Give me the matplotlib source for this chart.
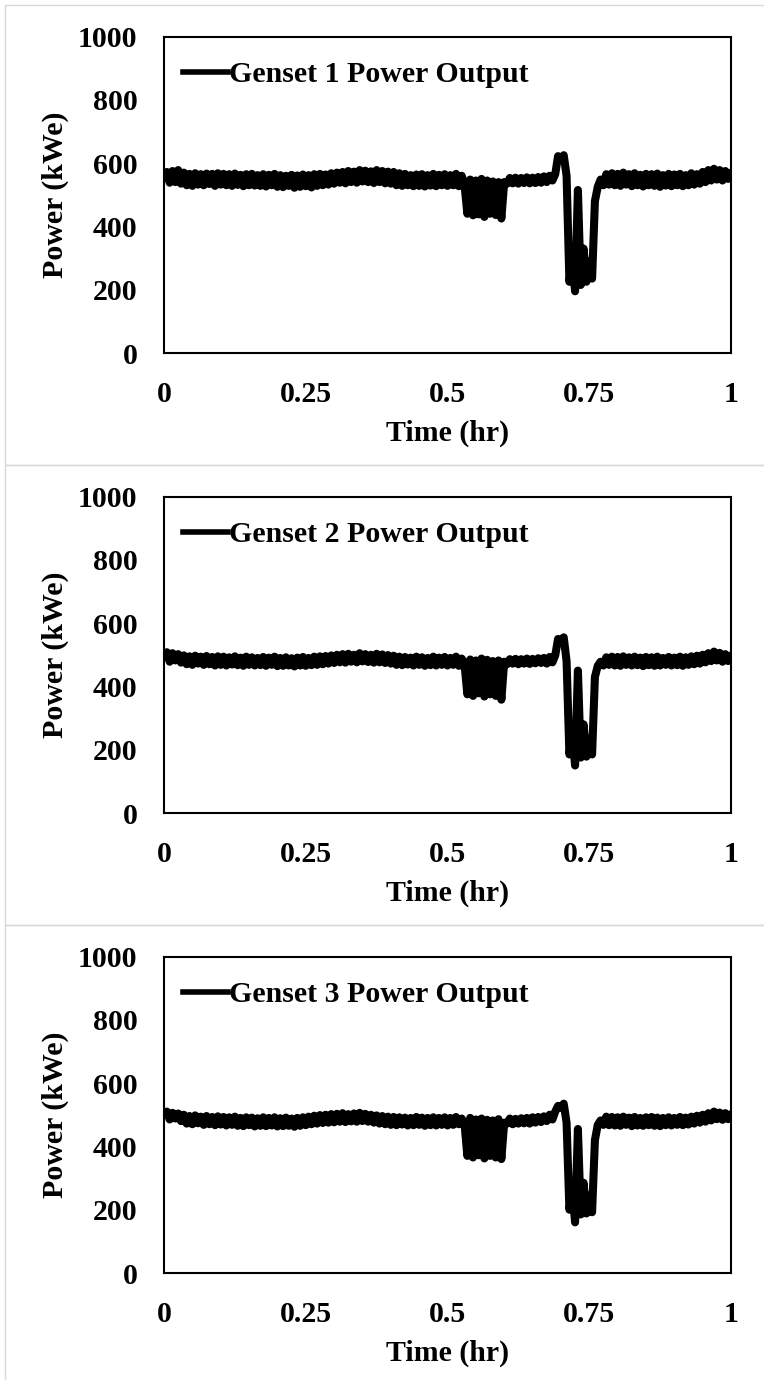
import numpy as np
import matplotlib
matplotlib.use("Agg")
import matplotlib.pyplot as plt
from matplotlib.lines import Line2D
from matplotlib.patches import Rectangle

plt.rcParams['font.family'] = ['Liberation Serif', 'DejaVu Serif']
plt.rcParams['font.weight'] = 'bold'
plt.rcParams['path.simplify'] = False

# sample times (hr), 0.005 hr step
time_hr = np.round(np.arange(0, 201) * 0.005, 3)

genset1 = [
    555, 572, 538, 575, 540, 578, 535, 570, 530, 566, 528, 568, 532, 565, 530, 567, 534, 566, 528, 568,
    532, 566, 530, 565, 528, 567, 531, 563, 527, 565, 530, 566, 529, 562, 528, 565, 526, 563, 530, 566,
    525, 562, 524, 560, 528, 563, 522, 561, 525, 564, 527, 562, 523, 565, 528, 566, 530, 564, 532, 568,
    535, 570, 538, 572, 536, 575, 540, 573, 538, 578, 542, 576, 540, 574, 537, 578, 540, 575, 536, 573,
    535, 572, 530, 568, 528, 566, 530, 562, 527, 564, 528, 565, 526, 562, 529, 566, 527, 563, 530, 565,
    528, 562, 530, 566, 527, 560, 532, 440, 548, 435, 545, 438, 550, 430, 545, 440, 542, 436, 540, 425,
    540, 535, 553, 536, 554, 535, 553, 537, 555, 536, 554, 537, 556, 538, 558, 540, 560, 545, 565, 622,
    612, 625, 560, 225, 300, 195, 515, 215, 330, 225, 290, 235, 480, 525, 548, 530, 565, 532, 568, 530,
    566, 528, 570, 532, 565, 527, 568, 530, 563, 526, 566, 530, 565, 528, 567, 525, 562, 529, 566, 527,
    564, 530, 566, 527, 562, 530, 568, 532, 565, 535, 572, 540, 578, 545, 582, 548, 578, 545, 575, 550,
    570,
]

genset2 = [
    495, 508, 478, 505, 482, 502, 475, 498, 470, 495, 468, 497, 472, 494, 468, 496, 470, 493, 466, 495,
    468, 494, 466, 492, 469, 495, 467, 491, 465, 494, 468, 492, 466, 490, 467, 493, 465, 491, 468, 494,
    464, 490, 465, 492, 466, 489, 463, 491, 466, 493, 465, 490, 467, 494, 468, 495, 470, 496, 472, 498,
    474, 500, 476, 502, 475, 503, 478, 500, 476, 505, 479, 502, 477, 500, 475, 503, 476, 501, 474, 499,
    472, 497, 468, 494, 467, 493, 469, 491, 466, 494, 468, 492, 465, 490, 467, 494, 466, 491, 468, 493,
    466, 490, 468, 494, 465, 488, 470, 375, 485, 370, 482, 378, 488, 368, 484, 375, 480, 370, 482, 358,
    478, 470, 486, 472, 487, 470, 486, 472, 488, 471, 487, 473, 489, 474, 490, 472, 493, 476, 498, 550,
    540, 555, 480, 185, 260, 150, 450, 175, 280, 178, 235, 185, 430, 465, 478, 466, 492, 468, 494, 466,
    493, 465, 495, 468, 492, 466, 494, 467, 491, 464, 493, 467, 492, 465, 494, 466, 490, 468, 493, 466,
    491, 467, 494, 465, 492, 468, 495, 470, 497, 472, 500, 476, 505, 480, 510, 482, 506, 478, 502, 480,
    498,
]

genset3 = [
    500, 510, 485, 506, 488, 504, 480, 500, 472, 496, 470, 498, 473, 494, 468, 496, 470, 493, 467, 495,
    469, 493, 466, 492, 468, 494, 465, 490, 464, 492, 467, 491, 463, 489, 465, 492, 464, 490, 466, 492,
    463, 489, 464, 491, 465, 488, 462, 490, 465, 492, 467, 494, 470, 497, 472, 499, 474, 500, 475, 502,
    476, 503, 478, 505, 477, 502, 479, 504, 478, 506, 480, 503, 478, 500, 475, 498, 472, 496, 470, 494,
    468, 493, 467, 492, 469, 491, 466, 490, 467, 493, 468, 491, 465, 490, 467, 492, 466, 490, 468, 492,
    466, 490, 468, 493, 470, 488, 472, 370, 490, 365, 485, 372, 488, 362, 484, 370, 482, 365, 486, 360,
    475, 472, 488, 470, 487, 472, 489, 473, 490, 472, 492, 475, 493, 477, 495, 480, 500, 485, 510, 528,
    522, 535, 475, 200, 270, 160, 455, 185, 285, 188, 245, 192, 420, 468, 482, 468, 494, 467, 493, 466,
    492, 465, 494, 468, 491, 464, 493, 466, 490, 465, 492, 467, 493, 465, 491, 464, 490, 467, 492, 466,
    490, 468, 493, 467, 491, 469, 494, 472, 497, 475, 500, 478, 505, 482, 510, 486, 507, 484, 505, 486,
    502,
]

series = [genset1, genset2, genset3]
labels = ["Genset 1 Power Output", "Genset 2 Power Output", "Genset 3 Power Output"]
y_ticks = [0, 200, 400, 600, 800, 1000]
x_ticks = [0, 0.25, 0.5, 0.75, 1]
x_tick_labels = ["0", "0.25", "0.5", "0.75", "1"]

W, H = 764, 1380
fig = plt.figure(figsize=(W / 100, H / 100), dpi=100)

# panel frames
for k in range(3):
    y_top = 5 + 460 * k
    fig.patches.append(Rectangle((5 / W, 1 - (y_top + 460) / H), 1.0, 460 / H,
                                 transform=fig.transFigure, fill=False,
                                 edgecolor='#d9d9d9', linewidth=1.0))

FS = 21.5
for k in range(3):
    ax_top = 36.5 + 460 * k
    ax_bot = 353 + 460 * k
    ax = fig.add_axes([164 / W, 1 - ax_bot / H, 567 / W, (ax_bot - ax_top) / H])
    vals = series[k]
    assert len(vals) == len(time_hr), len(vals)
    ax.plot(time_hr, vals, color='black', linewidth=5.8, solid_joinstyle='round',
            solid_capstyle='round')
    ax.set_xlim(0, 1)
    ax.set_ylim(0, 1000)
    ax.set_xticks(x_ticks)
    ax.set_xticklabels(x_tick_labels)
    ax.set_yticks(y_ticks)
    ax.tick_params(axis='both', length=0, labelsize=FS)
    ax.tick_params(axis='y', pad=19)
    ax.tick_params(axis='x', pad=20)
    for lab in ax.get_xticklabels() + ax.get_yticklabels():
        lab.set_fontweight('bold')
    for sp in ax.spines.values():
        sp.set_linewidth(1.5)
        sp.set_color('black')
    ax.set_ylabel("Power (kWe)", fontsize=FS, fontweight='bold')
    ax.set_xlabel("Time (hr)", fontsize=FS, fontweight='bold')
    ax.yaxis.set_label_coords(-0.167, 0.5)
    ax.xaxis.set_label_coords(0.5, -0.21)
    handle = Line2D([], [], color='black', linewidth=4.0)
    ax.legend([handle], [labels[k]], loc='center left',
              bbox_to_anchor=(0.0335, 0.88), frameon=False,
              handlelength=1.5, handletextpad=0.05, borderpad=0,
              borderaxespad=0, prop={'size': FS, 'weight': 'bold'})

fig.savefig("out.png", dpi=100)
